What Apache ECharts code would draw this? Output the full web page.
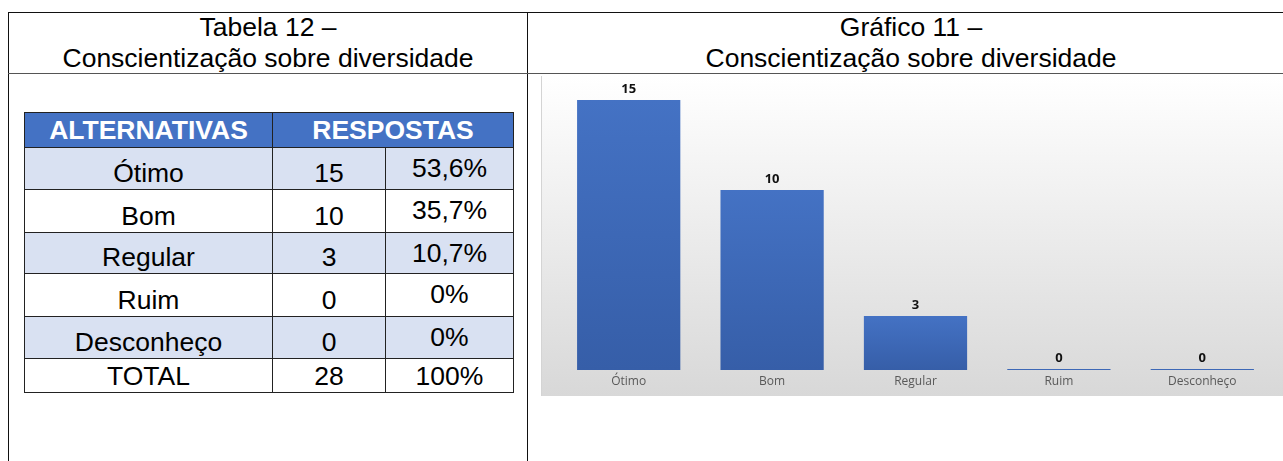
<!DOCTYPE html>
<html>
<head>
<meta charset="utf-8">
<script src="https://cdn.jsdelivr.net/npm/echarts@6/dist/echarts.min.js"></script>
<style>
	html, body { margin: 0; padding: 0; background: #fff; width: 1283px; height: 461px; overflow: hidden; }
	body { position: relative; font-family: "Liberation Sans", Arial, sans-serif; color: #000; }
	.frame { position: absolute; left: 8px; top: 12px; width: 1300px; height: 470px; border: 1px solid #111; box-sizing: border-box; }
	.vline { position: absolute; left: 527px; top: 12px; width: 1px; height: 460px; background: #111; }
	.hline { position: absolute; left: 8px; top: 73px; width: 1290px; height: 1px; background: #555; }
	.title { position: absolute; top: 12px; font-size: 26.5px; line-height: 31px; text-align: center; }
	#tbl { position: absolute; left: 24px; top: 112px; border-collapse: collapse; table-layout: fixed; }
	#tbl td { border: 1px solid #222; text-align: center; font-size: 26.5px; padding: 0; white-space: nowrap; }
	#tbl tr.head td { background: #4472c4; color: #fff; font-weight: bold; font-size: 26.5px; height: 34px; line-height: 30px; }
	#tbl tr.alt td { background: #d9e1f2; }
	#tbl td.n { vertical-align: bottom; padding-bottom: 1px; line-height: 30px; }
	#tbl td.p { vertical-align: top; padding-top: 5px; line-height: 30px; }
	#tbl tr.tot td { line-height: 30px; }
	#chart { position: absolute; left: 541px; top: 76px; width: 742px; height: 320px; border-left: 1px solid #d4d4d4; box-sizing: border-box; }
</style>
</head>
<body>
<div class="frame"></div>
<div class="vline"></div>
<div class="hline"></div>
<div class="title" style="left:8px;width:520px;">Tabela 12 –<br>Conscientização sobre diversidade</div>
<div class="title" style="left:528px;width:766px;">Gráfico 11 –<br>Conscientização sobre diversidade</div>
<table id="tbl"></table>
<div id="chart"></div>
<script>
	// dados
	var categorias = ['Ótimo', 'Bom', 'Regular', 'Ruim', 'Desconheço'];
	var respostas = [15, 10, 3, 0, 0];
	var percentuais = ['53,6%', '35,7%', '10,7%', '0%', '0%'];
	var total = 28;
	var totalPct = '100%';
	var alturas = [42, 43, 41, 43, 42];

	// tabela
	var html = '<colgroup><col style="width:248px"><col style="width:113px"><col style="width:128px"></colgroup>';
	html += '<tr class="head"><td>ALTERNATIVAS</td><td colspan="2">RESPOSTAS</td></tr>';
	for (var i = 0; i < categorias.length; i++) {
		html += '<tr class="' + (i % 2 == 0 ? 'alt' : '') + '" style="height:' + alturas[i] + 'px">' +
			'<td class="n">' + categorias[i] + '</td>' +
			'<td class="n">' + respostas[i] + '</td>' +
			'<td class="p">' + percentuais[i] + '</td></tr>';
	}
	html += '<tr class="tot" style="height:34px"><td>TOTAL</td><td>' + total + '</td><td>' + totalPct + '</td></tr>';
	document.getElementById('tbl').innerHTML = html;

	// grafico
	var myChart = echarts.init(document.getElementById('chart'));
	var option = {
		backgroundColor: {
			type: 'linear', x: 0, y: 0, x2: 0, y2: 1,
			colorStops: [{ offset: 0, color: '#ffffff' }, { offset: 1, color: '#d8d8d8' }]
		},
		animation: false,
		grid: {
			left: 15,
			right: 9,
			top: 6,
			bottom: 26
		},
		xAxis: {
			type: 'category',
			data: categorias,
			axisLine: { show: false },
			axisTick: { show: false },
			axisLabel: {
				margin: 6,
				fontSize: 12,
				color: '#595959',
				fontFamily: 'Open Sans'
			}
		},
		yAxis: {
			type: 'value',
			min: 0,
			max: 16,
			show: false
		},
		series: [{
			type: 'bar',
			data: respostas,
			barWidth: '72%',
			barMinHeight: 1,
			itemStyle: {
				color: {
					type: 'linear', x: 0, y: 0, x2: 0, y2: 1,
					colorStops: [{ offset: 0, color: '#4472c4' }, { offset: 1, color: '#365ea8' }]
				}
			},
			label: {
				show: true,
				position: 'top',
				distance: 4,
				fontSize: 13,
				fontWeight: 'bold',
				color: '#111',
				fontFamily: 'Open Sans'
			}
		}]
	};
	myChart.setOption(option);
</script>
</body>
</html>
